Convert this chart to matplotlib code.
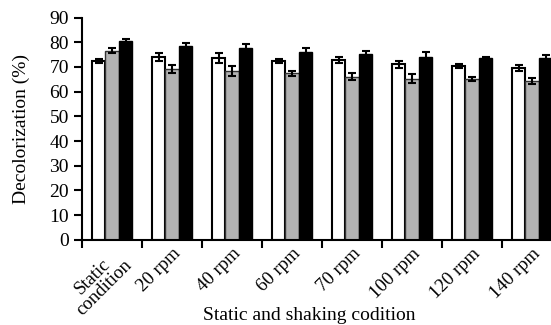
import numpy as np
import matplotlib.pyplot as plt

plt.rcParams['font.family'] = ['Liberation Serif', 'DejaVu Serif']

conditions = ['Static\ncondition', '20 rpm', '40 rpm', '60 rpm', '70 rpm', '100 rpm', '120 rpm', '140 rpm']
white_vals = [72.4, 74.0, 73.5, 72.4, 72.7, 71.1, 70.4, 69.5]
white_err = [0.9, 1.5, 2.0, 1.0, 1.2, 1.5, 0.8, 1.2]
gray_vals = [76.5, 69.1, 68.4, 67.4, 66.1, 65.3, 65.0, 64.4]
gray_err = [1.0, 1.5, 2.0, 1.0, 1.3, 2.0, 0.8, 1.2]
black_vals = [80.4, 78.3, 77.6, 76.2, 75.3, 73.9, 73.5, 73.5]
black_err = [0.8, 1.5, 1.5, 1.5, 1.0, 2.0, 0.6, 1.5]

fig = plt.figure(figsize=(5.51, 3.25), dpi=100)
ax = fig.add_axes([0.149, 0.262, 0.871, 0.684])

x = np.arange(len(conditions))
w = 0.225
ekw = dict(elinewidth=1.5, capsize=3, capthick=1.5, ecolor='black')
ax.bar(x - w, white_vals, w, yerr=white_err, color='white', edgecolor='black', linewidth=1.5, error_kw=ekw)
ax.bar(x, gray_vals, w, yerr=gray_err, color='#b2b2b2', edgecolor='#333333', linewidth=1.0, error_kw=ekw)
ax.bar(x + w, black_vals, w, yerr=black_err, color='black', edgecolor='black', linewidth=1.0, error_kw=ekw)

ax.set_xlim(-0.5, 7.5)
ax.set_ylim(0, 90)
ax.set_yticks(range(0, 91, 10))
ax.set_xticks(np.arange(-0.5, 7.5, 1))
ax.set_xticklabels([])
ax.set_xticks(x, minor=True)
ax.set_xticklabels(conditions, minor=True, rotation=45, ha='right', rotation_mode='anchor',
                   fontsize=13.5, multialignment='center', linespacing=0.95)
ax.tick_params(axis='x', which='minor', length=0, pad=4)
ax.tick_params(axis='both', which='major', direction='out', length=6, width=1.5, labelsize=14)
for s in ['top', 'right']:
    ax.spines[s].set_visible(False)
for s in ['left', 'bottom']:
    ax.spines[s].set_linewidth(1.5)

ax.set_ylabel('Decolorization (%)', fontsize=14, labelpad=14)
ax.set_xlabel('Static and shaking codition', fontsize=14, va='top')
ax.xaxis.set_label_coords(0.474, -0.302)

fig.savefig('out.png', dpi=100)
